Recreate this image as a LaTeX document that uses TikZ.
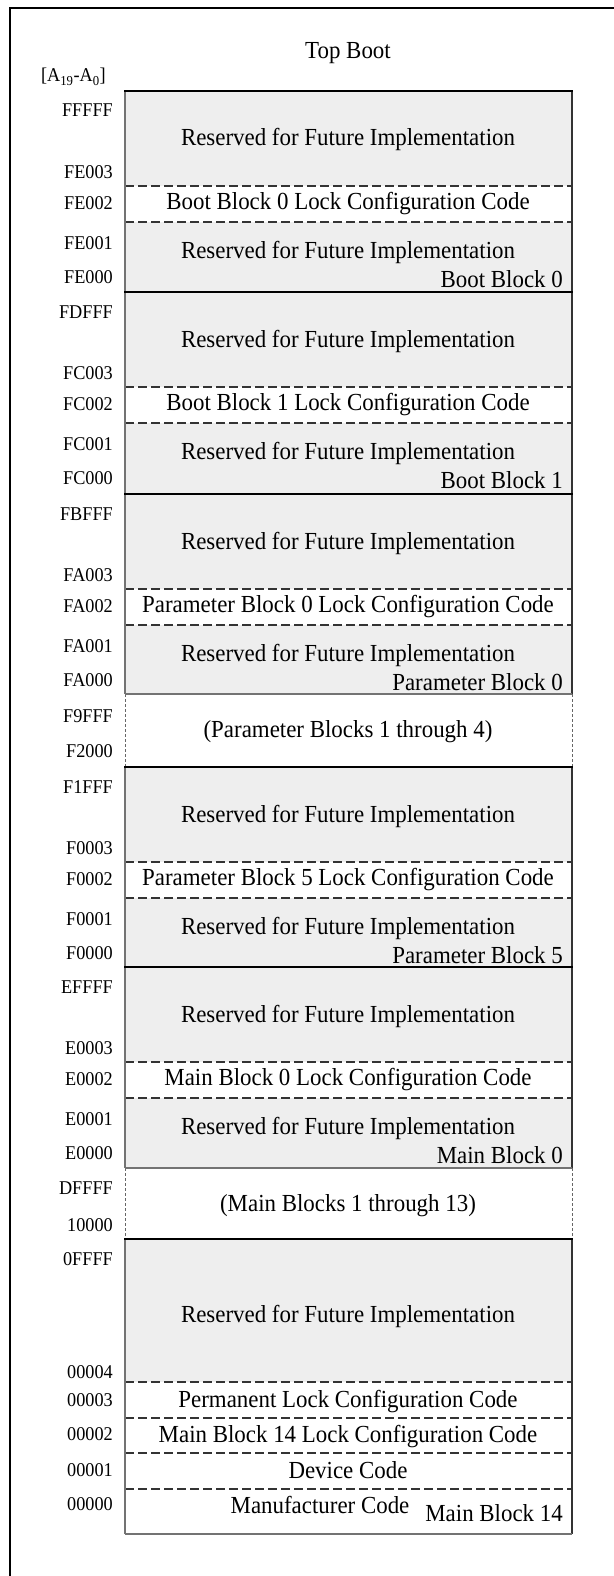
\documentclass[tikz,border=0pt]{standalone}
\usepackage{fontspec}
\setmainfont{Liberation Serif}[FakeStretch=0.935]
\usetikzlibrary{positioning}
\definecolor{resgray}{RGB}{238,238,238}
\newcommand{\mapfont}{\fontsize{24.5}{28}\selectfont}
\newcommand{\addrfont}{\fontsize{19.5}{22}\selectfont}
\tikzset{
  addr/.style={anchor=base east, font=\addrfont, inner sep=0pt},
  memtext/.style={anchor=base, font=\mapfont, inner sep=0pt},
  blkname/.style={anchor=base east, font=\mapfont, inner sep=0pt},
  splitline/.style={draw=black!80, line width=1.2pt, dash pattern=on 9pt off 4pt},
  blockline/.style={draw=black, line width=1.8pt},
  edgeline/.style={draw=black!55, line width=1.4pt},
  gapside/.style={draw=black!60, line width=1pt, dash pattern=on 3pt off 2pt},
}

\begin{document}
\begin{tikzpicture}[x=1pt, y=-1pt]
        \useasboundingbox (0,0) rectangle (613,1576);
        \fill[white] (0,0) rectangle (613,1576);
        \draw[line width=1.6pt] (620,8) -- (10,8) -- (10,1582);

        \node[memtext] (title) at (348,59) {Top Boot};
        \node[addr] (bus) at (106,82) {[A\textsubscript{19}-A\textsubscript{0}]};

        % blocks with lock code
        \foreach \t/\b/\aa/\ab/\ac/\ad/\ae/\name [count=\i] in {
            91/292/FFFFF/FE003/FE002/FE001/FE000/Boot Block 0,
            292/494/FDFFF/FC003/FC002/FC001/FC000/Boot Block 1,
            494/694/FBFFF/FA003/FA002/FA001/FA000/Parameter Block 0,
            767/967/F1FFF/F0003/F0002/F0001/F0000/Parameter Block 5,
            967/1168/EFFFF/E0003/E0002/E0001/E0000/Main Block 0}{
            \fill[resgray] (125,\t) rectangle (572,\t+95);
            \fill[resgray] (125,\t+131) rectangle (572,\b);
            \draw[splitline] (125,\t+95) -- (572,\t+95);
            \draw[splitline] (125,\t+131) -- (572,\t+131);
            \node[addr] (a\i-1) at (113,\t+26) {\aa};
            \node[addr] (a\i-2) at (113,\t+87) {\ab};
            \node[addr] (a\i-3) at (113,\t+118) {\ac};
            \node[addr] (a\i-4) at (113,\t+158) {\ad};
            \node[addr] (a\i-5) at (113,\t+192) {\ae};
            \node[memtext] (res\i-1) at (348,\t+55) {Reserved for Future Implementation};
            \node[memtext] (lock\i) at (348,\t+118) {\name{} Lock Configuration Code};
            \node[memtext] (res\i-2) at (348,\t+167) {Reserved for Future Implementation};
            \node[blkname] (name\i) at (563,\t+196) {\name};
        }

        % gaps
        \node[addr] (g1-1) at (113,722) {F9FFF};
        \node[addr] (g1-2) at (113,757) {F2000};
        \node[memtext] (gap1) at (348,737) {(Parameter Blocks 1 through 4)};
        \node[addr] (g2-1) at (113,1194) {DFFFF};
        \node[addr] (g2-2) at (113,1231) {10000};
        \node[memtext] (gap2) at (348,1211) {(Main Blocks 1 through 13)};
        \foreach \x in {125,572}{
            \draw[gapside] (\x,694) -- (\x,767);
            \draw[gapside] (\x,1168) -- (\x,1239);
        }

        % main block 14
        \fill[resgray] (125,1239) rectangle (572,1382);
        \foreach \y in {1382,1418,1453,1489}
            \draw[splitline] (125,\y) -- (572,\y);
        \node[addr] (m-1) at (113,1265) {0FFFF};
        \node[addr] (m-2) at (113,1378) {00004};
        \node[addr] (m-3) at (113,1406) {00003};
        \node[addr] (m-4) at (113,1440) {00002};
        \node[addr] (m-5) at (113,1476) {00001};
        \node[addr] (m-6) at (113,1510) {00000};
        \node[memtext] (res6) at (348,1322) {Reserved for Future Implementation};
        \node[memtext] (perm) at (348,1407) {Permanent Lock Configuration Code};
        \node[memtext] (lock6) at (348,1442) {Main Block 14 Lock Configuration Code};
        \node[memtext] (dev) at (348,1478) {Device Code};
        \node[memtext] (manu) at (320,1513) {Manufacturer Code};
        \node[blkname] (name6) at (563,1521) {Main Block 14};

        % outline
        \foreach \ya/\yb in {91/694, 767/1168, 1239/1534}{
            \draw[edgeline] (125,\ya) -- (125,\yb);
            \draw[draw=black!80, line width=1.4pt] (572,\ya) -- (572,\yb);
        }
        \foreach \y in {694,1168,1534}
            \draw[edgeline, line width=1.2pt] (125,\y) -- (572,\y);
        \foreach \y in {91,292,494,767,967,1239}
            \draw[blockline] (124.3,\y) -- (572.7,\y);
\end{tikzpicture}
\end{document}
